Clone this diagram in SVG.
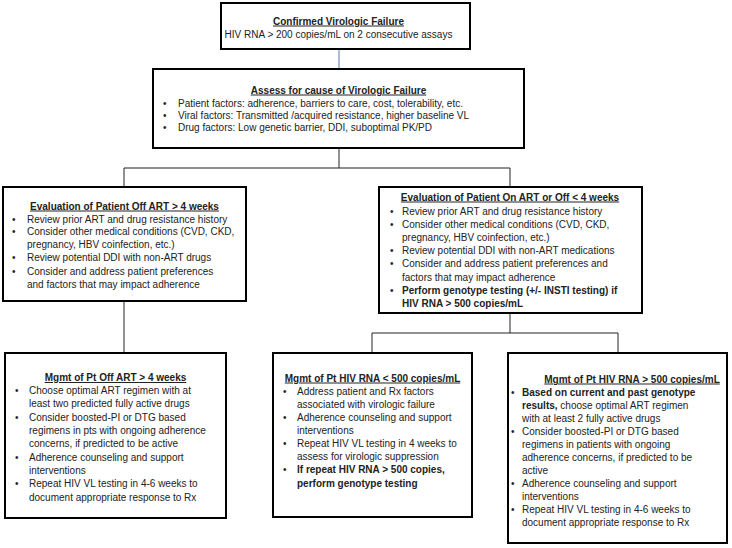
<svg xmlns="http://www.w3.org/2000/svg" width="732" height="548" viewBox="0 0 732 548" xml:space="preserve">
<style>
.box{fill:#fff;stroke:#000;stroke-width:2}
text{font-family:"Liberation Sans",Arial,sans-serif;font-size:10px;fill:#222}
.t{font-weight:bold;text-decoration:underline;text-anchor:middle}
.c{text-anchor:middle}
.b{font-weight:bold}
.conn{fill:none;stroke:#222;stroke-width:1}
</style>
<rect width="732" height="548" fill="#fff"/>
<g id="connectors">
<line x1="339" y1="49" x2="339" y2="69" stroke="#6f8fc0" stroke-width="1.2"/>
<polyline class="conn" points="339,148 339,168"/>
<polyline class="conn" points="124,187 124,168 510,168 510,187"/>
<polyline class="conn" points="124,301 124,353"/>
<polyline class="conn" points="510,313 510,333"/>
<polyline class="conn" points="372,353 372,333 618,333 618,353"/>
</g>
<g id="n1">
<rect class="box" x="221" y="3" width="249" height="46"/>
<text class="t" x="338.5" y="24.5">Confirmed Virologic Failure</text>
<text class="c" x="338.5" y="38">HIV RNA &gt; 200 copies/mL on 2 consecutive assays</text>
</g>
<g id="n2">
<rect class="box" x="153" y="69" width="371" height="79"/>
<text class="t" x="338.5" y="93.5">Assess for cause of Virologic Failure</text>
<text x="163" y="106.5">•</text><text x="178" y="106.5">Patient factors: adherence, barriers to care, cost, tolerability, etc.</text>
<text x="163" y="118.5">•</text><text x="178" y="118.5">Viral factors:  Transmitted /acquired resistance, higher baseline VL</text>
<text x="163" y="130.5">•</text><text x="178" y="130.5">Drug factors: Low genetic barrier,  DDI, suboptimal PK/PD</text>
</g>
<g id="n3">
<rect class="box" x="3" y="187" width="243" height="114"/>
<text class="t" x="124.5" y="209.5">Evaluation of Patient Off ART &gt; 4 weeks</text>
<text x="12" y="222.5">•</text><text x="27" y="222.5">Review prior ART and drug resistance history</text>
<text x="12" y="235">•</text><text x="27" y="235">Consider other medical conditions (CVD, CKD,</text>
<text x="27" y="248">pregnancy, HBV coinfection, etc.)</text>
<text x="12" y="261">•</text><text x="27" y="261">Review potential DDI with non-ART drugs</text>
<text x="12" y="274.5">•</text><text x="27" y="274.5">Consider and address  patient preferences</text>
<text x="27" y="288">and factors that may impact adherence</text>
</g>
<g id="n4">
<rect class="box" x="379" y="187" width="263" height="126"/>
<text class="t" x="510" y="200.5">Evaluation of Patient On ART or Off &lt; 4 weeks</text>
<text x="390" y="214.5">•</text><text x="402" y="214.5">Review prior ART and drug resistance history</text>
<text x="390" y="227.5">•</text><text x="402" y="227.5">Consider other medical conditions (CVD, CKD,</text>
<text x="402" y="240.5">pregnancy, HBV coinfection, etc.)</text>
<text x="390" y="253.5">•</text><text x="402" y="253.5">Review potential DDI with non-ART medications</text>
<text x="390" y="266.5">•</text><text x="402" y="266.5">Consider and address  patient preferences   and</text>
<text x="402" y="280.5">factors that may impact adherence</text>
<text x="390" y="293.5">•</text><text class="b" x="402" y="293.5">Perform genotype testing (+/- INSTI testing) if</text>
<text class="b" x="402" y="306.5">HIV RNA &gt; 500 copies/mL</text>
</g>
<g id="n5">
<rect class="box" x="5" y="353" width="221" height="165"/>
<text class="t" x="115.5" y="381">Mgmt of Pt Off ART &gt; 4 weeks</text>
<text x="15" y="394">•</text><text x="29" y="394">Choose optimal ART regimen with at</text>
<text x="29" y="407">least two predicted fully active drugs</text>
<text x="15" y="420.5">•</text><text x="29" y="420.5">Consider boosted-PI or DTG based</text>
<text x="29" y="434">regimens in pts with ongoing adherence</text>
<text x="29" y="447">concerns, if predicted to be active</text>
<text x="15" y="460.5">•</text><text x="29" y="460.5">Adherence counseling and support</text>
<text x="29" y="474">interventions</text>
<text x="15" y="487">•</text><text x="29" y="487">Repeat HIV VL testing in 4-6 weeks to</text>
<text x="29" y="500.5">document appropriate response to Rx</text>
</g>
<g id="n6">
<rect class="box" x="273" y="353" width="199" height="164"/>
<text class="t" x="372.5" y="381.5">Mgmt of Pt HIV RNA &lt; 500 copies/mL</text>
<text x="283" y="394.5">•</text><text x="297" y="394.5">Address patient and Rx factors</text>
<text x="297" y="407.5">associated with virologic failure</text>
<text x="283" y="420.5">•</text><text x="297" y="420.5">Adherence counseling and support</text>
<text x="297" y="433.5">interventions</text>
<text x="283" y="446.5">•</text><text x="297" y="446.5">Repeat HIV VL testing in 4 weeks to</text>
<text x="297" y="460">assess for virologic suppression</text>
<text x="283" y="473">•</text><text class="b" x="297" y="473">If repeat HIV RNA &gt; 500 copies,</text>
<text class="b" x="297" y="486.5">perform genotype testing</text>
</g>
<g id="n7">
<rect class="box" x="508" y="353" width="219" height="190"/>
<text class="t" x="632" y="382.5">Mgmt of Pt HIV RNA &gt; 500 copies/mL</text>
<text x="511" y="395.5">•</text><text class="b" x="522" y="395.5">Based on current and past genotype</text>
<text x="522" y="408.5"><tspan class="b">results,</tspan> choose optimal ART regimen</text>
<text x="522" y="421.5">with at least 2 fully active drugs</text>
<text x="511" y="434.5">•</text><text x="522" y="434.5">Consider boosted-PI or DTG based</text>
<text x="522" y="447.5">regimens in patients with ongoing</text>
<text x="522" y="460.5">adherence concerns, if predicted to be</text>
<text x="522" y="473.5">active</text>
<text x="511" y="486.5">•</text><text x="522" y="486.5">Adherence counseling and support</text>
<text x="522" y="500">interventions</text>
<text x="511" y="512.5">•</text><text x="522" y="512.5">Repeat HIV VL testing in 4-6 weeks to</text>
<text x="522" y="525.5">document appropriate response to Rx</text>
</g>
</svg>
